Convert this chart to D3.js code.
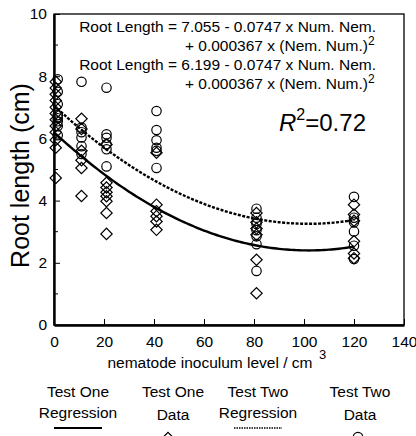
<!DOCTYPE html>
<html>
<head>
<meta charset="utf-8">
<script src="https://cdn.jsdelivr.net/npm/d3@7"></script>
<style>
  body { margin: 0; background: #fff; }
  text { font-family: "Liberation Sans", Arial, sans-serif; fill: #000; }
</style>
</head>
<body>
<div id="chart"></div>
<script>
// inoculum levels as plotted (points sit a little right of the nominal dose)
const testOneX = [0.7, 11, 21, 41, 81, 120];
const testTwoX = [1.5, 11, 21, 41, 81, 120];

// root length readings, one array per inoculum level
const testOneData = [
  [7.82, 7.62, 7.42, 7.22, 7.0, 6.8, 6.6, 6.4, 6.2, 5.95, 5.7, 4.73],
  [6.63, 6.3, 5.6, 5.3, 5.05, 4.15],
  [5.8, 4.57, 4.42, 4.27, 4.14, 3.98, 3.6, 2.93],
  [5.54, 3.87, 3.66, 3.5, 3.33, 3.06],
  [3.6, 3.3, 3.1, 2.9, 2.1, 1.02],
  [3.87, 3.55, 3.35, 2.69, 2.3, 2.15]
];
const testTwoData = [
  [7.9, 7.5, 7.1, 6.75, 6.65, 6.55, 6.4, 6.1],
  [7.82, 6.35, 6.2, 6.03, 5.75, 5.5],
  [7.63, 6.13, 6.02, 5.81, 5.65, 5.1],
  [6.88, 6.27, 5.94, 5.7, 5.6, 5.05],
  [3.74, 3.45, 3.25, 3.05, 2.85, 2.6, 1.74],
  [4.12, 3.45, 3.3, 3.01, 2.55, 2.12]
];

// regression coefficients [a, b, c] : a + b*x + c*x^2
const testOneCoef = [6.199, -0.0747, 0.000367];
const testTwoCoef = [7.055, -0.0747, 0.000367];

const xTicks = [0, 20, 40, 60, 80, 100, 120, 140];
const yTicks = [0, 2, 4, 6, 8, 10];
const yMinorTicks = [1, 3, 5, 7, 9];

const equations = [
  ["Root Length = 7.055 - 0.0747 x Num. Nem.", null],
  ["+ 0.000367 x (Nem. Num.)", "2"],
  ["Root Length = 6.199 - 0.0747 x Num. Nem.", null],
  ["+ 0.000367 x (Nem. Num.)", "2"]
];

const legendItems = [
  {label: ["Test One", "Regression"], kind: "solid"},
  {label: ["Test One", "Data"], kind: "diamond"},
  {label: ["Test Two", "Regression"], kind: "dotted"},
  {label: ["Test Two", "Data"], kind: "circle"}
];

const width = 416, height = 436;
const margin = {top: 14, right: 12, bottom: 111, left: 54};

const svg = d3.select("#chart")
  .append("svg")
    .attr("width", width)
    .attr("height", height);

const x = d3.scaleLinear()
  .domain([0, 140])
  .range([margin.left, width - margin.right]);

const y = d3.scaleLinear()
  .domain([0, 10])
  .range([height - margin.bottom, margin.top]);

// frame
svg.append("rect")
  .attr("x", x(0))
  .attr("y", y(10))
  .attr("width", x(140) - x(0))
  .attr("height", y(0) - y(10))
  .attr("fill", "none")
  .attr("stroke", "#000")
  .attr("stroke-width", 1.3);

// axes, ticks pointing inward
const xAxis = d3.axisBottom(x).tickValues(xTicks).tickSizeInner(-6).tickSizeOuter(0).tickPadding(11);
svg.append("g")
  .attr("transform", `translate(0, ${y(0)})`)
  .call(xAxis)
  .call(g => g.select(".domain").attr("stroke-width", 2.4))
  .call(g => g.selectAll("text").attr("font-size", 15.5).attr("font-family", null));

const yAxis = d3.axisLeft(y).tickValues(yTicks).tickSizeInner(-6).tickSizeOuter(0).tickPadding(7);
svg.append("g")
  .attr("transform", `translate(${x(0)}, 0)`)
  .call(yAxis)
  .call(g => g.select(".domain").attr("stroke-width", 2.4))
  .call(g => g.selectAll("text").attr("font-size", 15.5).attr("font-family", null));

svg.append("g")
  .selectAll("line")
  .data(yMinorTicks)
  .join("line")
    .attr("x1", x(0))
    .attr("x2", x(0) + 4)
    .attr("y1", d => y(d))
    .attr("y2", d => y(d))
    .attr("stroke", "#000");

// axis titles
svg.append("text")
  .attr("transform", `translate(29, ${(y(0) + y(10)) / 2 + 6}) rotate(-90)`)
  .attr("text-anchor", "middle")
  .attr("font-size", 25)
  .text("Root length (cm)");

svg.append("text")
  .attr("x", 210)
  .attr("y", 368)
  .attr("text-anchor", "middle")
  .attr("font-size", 15.5)
  .text("nematode inoculum level / cm");
svg.append("text")
  .attr("x", 319)
  .attr("y", 359)
  .attr("font-size", 13)
  .text("3");

// regression curves
const quad = c => v => c[0] + c[1] * v + c[2] * v * v;
const curveXs = d3.range(0, 120.5, 1);
const lineGen = d3.line().x(d => x(d[0])).y(d => y(d[1]));

svg.append("path")
  .datum(curveXs.map(v => [v, quad(testTwoCoef)(v)]))
  .attr("d", lineGen)
  .attr("fill", "none")
  .attr("stroke", "#000")
  .attr("stroke-width", 2.4)
  .attr("stroke-dasharray", "3,1.5");

svg.append("path")
  .datum(curveXs.map(v => [v, quad(testOneCoef)(v)]))
  .attr("d", lineGen)
  .attr("fill", "none")
  .attr("stroke", "#000")
  .attr("stroke-width", 2.4);

// data points
const flat = (xs, data) => data.flatMap((vals, i) => vals.map(v => [xs[i], v]));
const diamond = d3.symbol().type(d3.symbolSquare).size(64);

svg.append("g")
  .selectAll("path")
  .data(flat(testOneX, testOneData))
  .join("path")
    .attr("d", diamond)
    .attr("transform", d => `translate(${x(d[0])}, ${y(d[1])}) rotate(45)`)
    .attr("fill", "none")
    .attr("stroke", "#000")
    .attr("stroke-width", 1.2);

svg.append("g")
  .selectAll("circle")
  .data(flat(testTwoX, testTwoData))
  .join("circle")
    .attr("cx", d => x(d[0]))
    .attr("cy", d => y(d[1]))
    .attr("r", 4.7)
    .attr("fill", "none")
    .attr("stroke", "#000")
    .attr("stroke-width", 1.2);

// equations
const eq = svg.append("g");
equations.forEach((line, i) => {
  eq.append("text")
    .attr("x", line[1] ? 368 : 376)
    .attr("y", 32 + i * 19)
    .attr("text-anchor", "end")
    .attr("font-size", 15.5)
    .text(line[0]);
  if (line[1]) {
    eq.append("text")
      .attr("x", 368)
      .attr("y", 32 + i * 19 - 6)
      .attr("font-size", 12)
      .text(line[1]);
  }
});

const r2 = svg.append("text")
  .attr("x", 279)
  .attr("y", 131)
  .attr("font-size", 24);
r2.append("tspan").attr("font-style", "italic").text("R");
r2.append("tspan").attr("font-size", 16).attr("dy", -11).text("2");
r2.append("tspan").attr("dy", 11).text("=0.72");

// legend
const legendX = [78, 173, 258, 360];
const legend = svg.append("g");
legendItems.forEach((item, i) => {
  const cx = legendX[i];
  const isLine = item.kind === "solid" || item.kind === "dotted";
  legend.append("text")
    .attr("x", cx).attr("y", 397)
    .attr("text-anchor", "middle")
    .attr("font-size", 15.5)
    .text(item.label[0]);
  legend.append("text")
    .attr("x", cx).attr("y", isLine ? 418 : 420)
    .attr("text-anchor", "middle")
    .attr("font-size", 15.5)
    .text(item.label[1]);
  if (isLine) {
    legend.append("line")
      .attr("x1", cx - 24).attr("x2", cx + 24)
      .attr("y1", 428).attr("y2", 428)
      .attr("stroke", "#000")
      .attr("stroke-width", item.kind === "solid" ? 2 : 1.6)
      .attr("stroke-dasharray", item.kind === "dotted" ? "1.5,1" : null);
  } else if (item.kind === "diamond") {
    legend.append("path")
      .attr("d", diamond)
      .attr("transform", `translate(${cx - 5}, 438) rotate(45)`)
      .attr("fill", "none").attr("stroke", "#000").attr("stroke-width", 1.2);
  } else {
    legend.append("circle")
      .attr("cx", cx - 2).attr("cy", 437).attr("r", 4.7)
      .attr("fill", "none").attr("stroke", "#000").attr("stroke-width", 1.2);
  }
});
</script>
</body>
</html>
